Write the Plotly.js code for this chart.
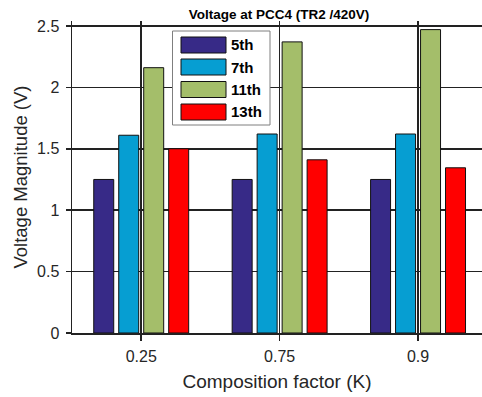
<!DOCTYPE html>
<html><head><meta charset="utf-8">
<script src="https://cdn.plot.ly/plotly-3.0.1.min.js"></script>
<style>html,body{margin:0;padding:0;background:#fff}#c{width:482px;height:397px}</style>
</head><body><div id="c"></div>
<script>
const categories = ['0.25', '0.75', '0.9'];
const seriesNames = ['5th', '7th', '11th', '13th'];
const h5 = [1.25, 1.25, 1.25];
const h7 = [1.61, 1.62, 1.62];
const h11 = [2.16, 2.37, 2.47];
const h13 = [1.50, 1.41, 1.345];
const colors = ['#372a87', '#069ed2', '#a4be6a', '#ff0000'];
const yTicks = [0, 0.5, 1, 1.5, 2, 2.5];

const vals = [h5, h7, h11, h13];
const traces = vals.map((v, i) => ({
  type: 'bar', x: categories, y: v, name: seriesNames[i],
  marker: {color: colors[i], line: {color: '#111', width: 1}},
  showlegend: false, hoverinfo: 'none'
}));

// custom legend box (paper coordinates)
const L = 72, T = 21, pw = 482 - 72, ph = 333 - 21;
const px = x => (x - L) / pw;
const py = y => (333 - y) / ph;
const shapes = [{type: 'rect', xref: 'paper', yref: 'paper', x0: px(172.5), x1: px(270), y0: py(125), y1: py(31),
  line: {color: '#7f7f7f', width: 1}, fillcolor: '#fff', layer: 'above'}];
const annotations = [];
const rowY = [45, 67, 89.5, 112];
seriesNames.forEach((n, i) => {
  shapes.push({type: 'rect', xref: 'paper', yref: 'paper',
    x0: px(181), x1: px(226), y0: py(rowY[i] + 8), y1: py(rowY[i] - 8),
    fillcolor: colors[i], line: {color: '#111', width: 1}, layer: 'above'});
  annotations.push({xref: 'paper', yref: 'paper', x: px(229), y: py(rowY[i]), xanchor: 'left', yanchor: 'middle',
    text: '<b>' + n + '</b>', showarrow: false, font: {size: 15, color: '#000', family: 'Liberation Sans, Arial'}});
});

const layout = {
  width: 482, height: 397,
  margin: {l: 72, r: 0, t: 21, b: 64},
  paper_bgcolor: '#fff', plot_bgcolor: '#fff',
  font: {family: 'Liberation Sans, Arial, sans-serif', color: '#262626'},
  title: {text: '<b>Voltage at PCC4 (TR2 /420V)</b>', font: {size: 13.5, color: '#000'}, x: px(279), xref: 'paper', xanchor: 'center', y: 1 - 14 / 397, yref: 'container', yanchor: 'middle'},
  barmode: 'group', bargap: 0.278, bargroupgap: 0.2,
  xaxis: {type: 'category', range: [-0.5, 2.462], showgrid: true, gridcolor: '#222', gridwidth: 1.5,
    ticks: 'outside', ticklen: 6, tickwidth: 1.5, tickcolor: '#222', ticklabelstandoff: 2,
    showline: true, linecolor: '#222', linewidth: 1.5, zeroline: false,
    tickfont: {size: 16, color: '#262626'},
    title: {text: 'Composition factor (K)', font: {size: 19, color: '#262626'}, standoff: 11}},
  yaxis: {range: [0, 2.54], tickvals: yTicks, ticktext: yTicks.map(String), showgrid: true, gridcolor: '#222', gridwidth: 1.5,
    ticks: 'outside', ticklen: 5, tickwidth: 1.5, tickcolor: '#222', ticklabelstandoff: 3,
    showline: true, linecolor: '#222', linewidth: 1.5, zeroline: false,
    tickfont: {size: 16, color: '#262626'},
    title: {text: 'Voltage Magnitude (V)', font: {size: 18.5, color: '#262626'}, standoff: 4}},
  shapes: shapes, annotations: annotations
};
Plotly.newPlot('c', traces, layout, {displayModeBar: false, staticPlot: true});
</script></body></html>
